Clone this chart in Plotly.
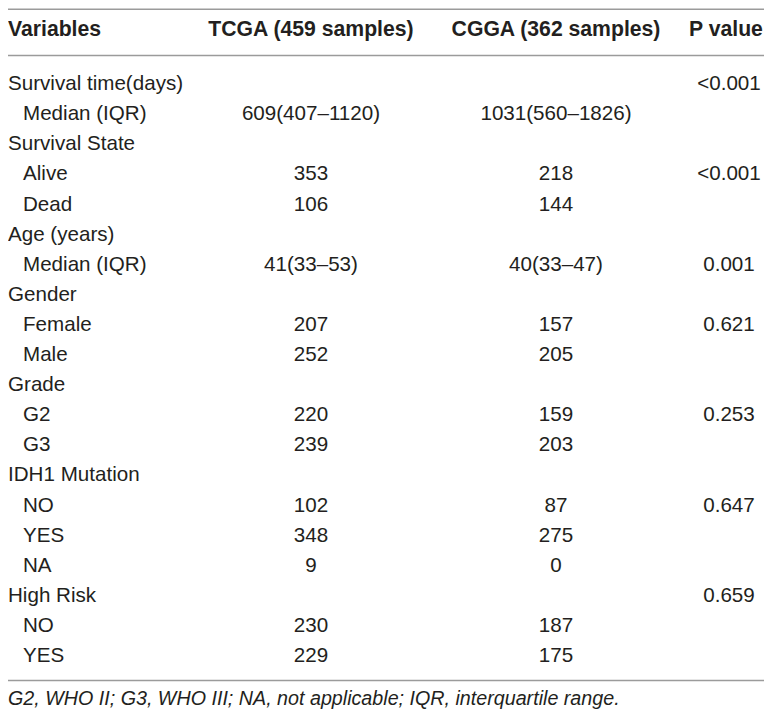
import plotly.graph_objects as go

# ---- data ----
headers = ["Variables", "TCGA (459 samples)", "CGGA (362 samples)", "P value"]
variables = ["Survival time(days)", "Median (IQR)", "Survival State", "Alive", "Dead",
             "Age (years)", "Median (IQR)", "Gender", "Female", "Male",
             "Grade", "G2", "G3", "IDH1 Mutation", "NO", "YES", "NA",
             "High Risk", "NO", "YES"]
is_sub = [0, 1, 0, 1, 1, 0, 1, 0, 1, 1, 0, 1, 1, 0, 1, 1, 1, 0, 1, 1]
tcga = ["", "609(407–1120)", "", "353", "106", "", "41(33–53)", "", "207", "252",
        "", "220", "239", "", "102", "348", "9", "", "230", "229"]
cgga = ["", "1031(560–1826)", "", "218", "144", "", "40(33–47)", "", "157", "205",
        "", "159", "203", "", "87", "275", "0", "", "187", "175"]
pvals = ["<0.001", "", "", "<0.001", "", "", "0.001", "", "0.621", "", "",
         "0.253", "", "", "0.647", "", "", "0.659", "", ""]
footnote = "G2, WHO II; G3, WHO III; NA, not applicable; IQR, interquartile range."

# ---- style / layout (positions in page pixels; page has an 8px body margin) ----
PAGE_W, PAGE_H, OFF = 772, 714, 8
W, H = PAGE_W - OFF, PAGE_H - OFF
ROW0, STEP = 85.0, 30.1            # page-pixel centre of first row, row pitch
def row(px):
    return (px - ROW0) / STEP

FONT = "Liberation Sans, Arial, Helvetica, sans-serif"
TXT = "#231f20"
LINE = "#9b9b9b"
BODY = 20.6
HEAD = 21.2
FOOT = 19.7
X_LEFT, X_IND = OFF, 23
X_TCGA, X_CGGA, X_P, X_PH = 311, 556, 729, 726

rows = list(range(len(variables)))
fig = go.Figure()

def txt(x, y, t, pos, size):
    fig.add_trace(go.Scatter(
        x=x, y=y, text=t, mode="text", textposition=pos, cliponaxis=False,
        textfont=dict(family=FONT, size=size, color=TXT), hoverinfo="skip"))

# first column
txt([X_IND if s else X_LEFT for s in is_sub], rows, variables, "middle right", BODY)
# value columns
for xc, vals in ((X_TCGA, tcga), (X_CGGA, cgga), (X_P, pvals)):
    txt([xc] * len(vals), rows, vals, "middle center", BODY)

# header
hy = row(31)
txt([X_LEFT], [hy], ["<b>" + headers[0] + "</b>"], "middle right", HEAD)
txt([X_TCGA, X_CGGA, X_PH], [hy] * 3, ["<b>" + h + "</b>" for h in headers[1:]],
    "middle center", HEAD)

# footnote
txt([X_LEFT], [row(700)], ["<i>" + footnote + "</i>"], "middle right", FOOT)

# horizontal rules
for py in (OFF + 1.2, 55.5, 680.5):
    fig.add_shape(type="line", xref="x", yref="y", x0=OFF, x1=PAGE_W,
                  y0=row(py), y1=row(py), line=dict(color=LINE, width=1.5))

fig.update_layout(
    width=W, height=H, margin=dict(l=0, r=0, t=0, b=0),
    paper_bgcolor="white", plot_bgcolor="white", showlegend=False,
    xaxis=dict(range=[OFF, OFF + W], visible=False, fixedrange=True),
    yaxis=dict(range=[row(OFF + H), row(OFF)], visible=False, fixedrange=True),
)
fig.write_html("out.html")
